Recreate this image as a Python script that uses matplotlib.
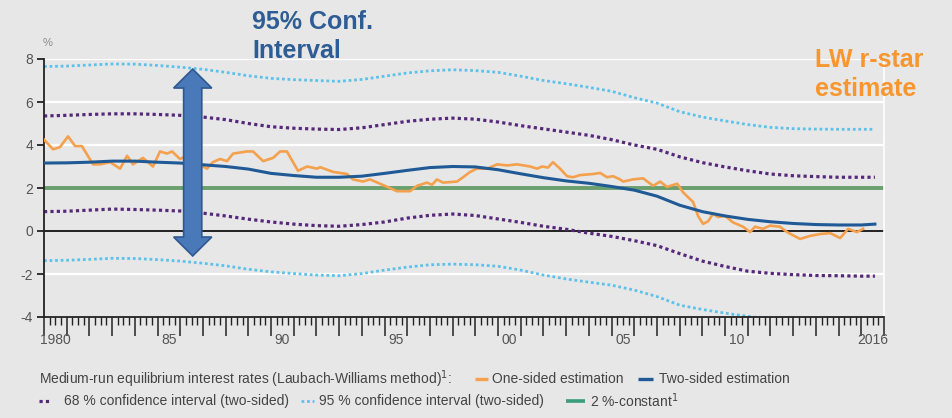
import matplotlib
matplotlib.use("Agg")
import matplotlib.pyplot as plt
from matplotlib.lines import Line2D
from matplotlib.patches import Polygon
from matplotlib.ticker import MultipleLocator

plt.rcParams['font.family'] = ['Liberation Sans', 'DejaVu Sans']

# one-sided (real-time) Laubach-Williams estimate
one_sided_t = [1980.0, 1980.4, 1980.7, 1981.06, 1981.37, 1981.67, 1982.16, 1982.47, 1982.91, 1983.35,
               1983.66, 1983.92, 1984.36, 1984.8, 1985.11, 1985.42, 1985.64, 1985.99, 1986.3, 1986.6,
               1987.0, 1987.18, 1987.44, 1987.75, 1988.06, 1988.33, 1988.94, 1989.21, 1989.65, 1990.09,
               1990.4, 1990.7, 1990.97, 1991.19, 1991.59, 1992.03, 1992.16, 1992.73, 1993.35, 1993.61,
               1994.05, 1994.36, 1994.8, 1995.55, 1996.12, 1996.43, 1996.87, 1997.09, 1997.31, 1997.58,
               1998.19, 1998.46, 1998.77, 1999.07, 1999.52, 1999.96, 2000.4, 2000.84, 2001.41, 2001.72,
               2001.94, 2002.2, 2002.42, 2002.73, 2003.04, 2003.3, 2003.61, 2004.19, 2004.5, 2004.8,
               2005.07, 2005.37, 2005.51, 2005.95, 2006.39, 2006.83, 2007.14, 2007.44, 2007.89, 2008.15,
               2008.59, 2008.81, 2009.03, 2009.25, 2009.47, 2009.69, 2010.0, 2010.35, 2010.79, 2011.1,
               2011.32, 2011.67, 2011.98, 2012.42, 2012.73, 2013.3, 2013.74, 2014.19, 2014.63, 2015.07,
               2015.42, 2015.81, 2016.08]
one_sided = [4.25, 3.8, 3.9, 4.4, 3.95, 3.95, 3.1, 3.1, 3.2, 2.9,
             3.5, 3.1, 3.4, 3.0, 3.7, 3.6, 3.7, 3.35, 3.5, 3.3,
             3.0, 2.9, 3.2, 3.35, 3.25, 3.6, 3.7, 3.7, 3.25, 3.4,
             3.7, 3.7, 3.2, 2.8, 3.0, 2.9, 2.97, 2.75, 2.65, 2.4,
             2.3, 2.4, 2.2, 1.85, 1.85, 2.1, 2.25, 2.15, 2.4, 2.25,
             2.3, 2.5, 2.75, 2.9, 2.9, 3.1, 3.05, 3.1, 3.0, 2.9,
             3.0, 2.95, 3.2, 2.9, 2.55, 2.5, 2.6, 2.65, 2.7, 2.5,
             2.55, 2.4, 2.3, 2.4, 2.45, 2.1, 2.3, 2.05, 2.2, 1.8,
             1.35, 0.7, 0.33, 0.45, 0.8, 0.65, 0.7, 0.4, 0.2, -0.05,
             0.2, 0.1, 0.25, 0.2, -0.05, -0.37, -0.23, -0.14, -0.1, -0.33,
             0.1, -0.05, 0.1]

# two-sided (smoothed) estimate and its confidence bands
years = [1980, 1981, 1982, 1983, 1984, 1985, 1986, 1987, 1988, 1989,
         1990, 1991, 1992, 1993, 1994, 1995, 1996, 1997, 1998, 1999,
         2000, 2001, 2002, 2003, 2004, 2005, 2006, 2007, 2008, 2009,
         2010, 2011, 2012, 2013, 2014, 2015, 2016, 2016.6]
two_sided = [3.16, 3.17, 3.2, 3.25, 3.25, 3.2, 3.16, 3.08, 3.0, 2.88,
             2.68, 2.58, 2.5, 2.5, 2.55, 2.68, 2.82, 2.95, 3.0, 2.98,
             2.85, 2.66, 2.48, 2.33, 2.22, 2.07, 1.9, 1.62, 1.2, 0.9,
             0.7, 0.54, 0.43, 0.35, 0.3, 0.28, 0.28, 0.32]
ci68_hi = [5.35, 5.38, 5.42, 5.45, 5.45, 5.42, 5.38, 5.3, 5.18, 5.0,
           4.85, 4.78, 4.74, 4.72, 4.8, 4.95, 5.1, 5.2, 5.25, 5.2,
           5.07, 4.9, 4.75, 4.6, 4.45, 4.25, 4.0, 3.8, 3.45, 3.18,
           2.98, 2.8, 2.65, 2.57, 2.53, 2.5, 2.5, 2.5]
ci68_lo = [0.9, 0.92, 0.97, 1.02, 1.0, 0.97, 0.93, 0.83, 0.7, 0.55,
           0.42, 0.32, 0.25, 0.22, 0.3, 0.42, 0.6, 0.73, 0.79, 0.72,
           0.56, 0.4, 0.22, 0.08, -0.1, -0.25, -0.45, -0.68, -1.05, -1.4,
           -1.65, -1.87, -1.97, -2.03, -2.07, -2.08, -2.1, -2.1]
ci95_hi = [7.65, 7.67, 7.72, 7.77, 7.76, 7.7, 7.62, 7.52, 7.38, 7.22,
           7.1, 7.04, 7.0, 6.96, 7.05, 7.2, 7.35, 7.45, 7.5, 7.46,
           7.38, 7.2, 7.0, 6.85, 6.68, 6.5, 6.2, 5.95, 5.55, 5.3,
           5.12, 4.95, 4.82, 4.76, 4.74, 4.73, 4.73, 4.73]
ci95_lo = [-1.38, -1.36, -1.32, -1.27, -1.28, -1.33, -1.4, -1.5, -1.62, -1.78,
           -1.9, -1.98, -2.05, -2.08, -1.98, -1.82, -1.68, -1.57, -1.54, -1.57,
           -1.64, -1.82, -2.05, -2.23, -2.38, -2.52, -2.75, -3.05, -3.45, -3.65,
           -3.82, -3.97, -4.1, -4.18, -4.22, -4.24, -4.25, -4.25]
constant = 2.0

year_labels = ['1980', '85', '90', '95', '00', '05', '10', '2016']
label_years = [1980, 1985, 1990, 1995, 2000, 2005, 2010, 2016]

BG = '#e7e7e7'
TXT = '#555555'
C_ONE = '#f4a04c'
C_TWO = '#1f5a96'
C_68 = '#56287a'
C_95 = '#5cc2ea'
C_CONST = '#6a9f6e'

W, H = 953, 418
fig = plt.figure(figsize=(W / 100, H / 100), dpi=100, facecolor=BG)
ax = fig.add_axes([44 / W, 1 - 317 / H, 840 / W, 258 / H], facecolor=BG)

for y in [8, 6, 4, 2, -2]:
    ax.axhline(y, color='white', lw=1.6, zorder=0)
ax.axhline(0, color='black', lw=1.2, zorder=1)

ax.plot(years, ci95_hi, color=C_95, lw=2.0, ls=(0, (1, 1)), zorder=2)
ax.plot(years, ci95_lo, color=C_95, lw=2.0, ls=(0, (1, 1)), zorder=2)
ax.plot(years, ci68_hi, color=C_68, lw=2.3, ls=(0, (1, 1)), zorder=2)
ax.plot(years, ci68_lo, color=C_68, lw=2.3, ls=(0, (1, 1)), zorder=2)
ax.axhline(constant, color=C_CONST, lw=2.8, zorder=2)
ax.plot(one_sided_t, one_sided, color=C_ONE, lw=1.9, zorder=3)
ax.plot(years, two_sided, color=C_TWO, lw=2.2, zorder=4)

ax.set_xlim(1980, 2017)
ax.set_ylim(-4, 8)

# axes styling
ax.spines['top'].set_visible(False)
ax.spines['right'].set_color('white')
ax.spines['right'].set_linewidth(1.2)
ax.spines['left'].set_color('#222222')
ax.spines['bottom'].set_color('#222222')
ax.spines['left'].set_linewidth(1.3)
ax.spines['bottom'].set_linewidth(1.3)

ax.set_yticks([8, 6, 4, 2, 0, -2, -4])
ax.set_yticklabels(['8', '6', '4', '2', '0', '-2', '-4'])
ax.tick_params(axis='y', direction='out', length=5, width=1.3, color='#222222',
               labelsize=10, labelcolor=TXT, pad=3)

ax.xaxis.set_major_locator(MultipleLocator(1))
ax.xaxis.set_minor_locator(MultipleLocator(0.25))
ax.tick_params(axis='x', which='major', direction='out', length=14, width=1.1,
               color='#222222', labelbottom=False)
ax.tick_params(axis='x', which='minor', direction='out', length=6, width=1.0,
               color='#222222')

# year labels sit in the middle of each year
for lab, yr in zip(year_labels, label_years):
    ax.text(yr + 0.5, -23 / 258, lab, transform=ax.get_xaxis_transform(),
            ha='center', va='center', fontsize=10, color=TXT)

fig.text(48 / W, 1 - 43 / H, '%', ha='center', va='center', fontsize=8, color='#8a8a8a')

# double-headed arrow marking the width of the 95% band
cx, hh, hs = 1986.55, 0.84, 0.40
top, top_base, bot_base, bot = 7.53, 6.65, -0.28, -1.16
arrow = Polygon([(cx, top), (cx + hh, top_base), (cx + hs, top_base), (cx + hs, bot_base),
                 (cx + hh, bot_base), (cx, bot), (cx - hh, bot_base), (cx - hs, bot_base),
                 (cx - hs, top_base), (cx - hh, top_base)],
                closed=True, facecolor='#4a79b9', edgecolor='#2f5890', lw=1.2, zorder=6)
ax.add_patch(arrow)

fig.text(252 / W, 1 - 58 / H, '95% Conf.\nInterval', ha='left', va='baseline',
         fontsize=18, fontweight='bold', color='#2e5d95', linespacing=1.25)
fig.text(815 / W, 1 - 96 / H, 'LW r-star\nestimate', ha='left', va='baseline',
         fontsize=18, fontweight='bold', color='#f7962e', linespacing=1.25)

# legend rows
def leg_line(x0, x1, y, color, ls='-', lw=2.4):
    fig.add_artist(Line2D([x0 / W, x1 / W], [1 - y / H, 1 - y / H], color=color,
                          lw=lw, ls=ls, solid_capstyle='butt'))

def leg_text(x, y, s):
    fig.text(x / W, 1 - y / H, s, ha='left', va='center', fontsize=10, color='#444444')

r1, r2 = 379, 401
leg_text(39, r1, 'Medium-run equilibrium interest rates (Laubach-Williams method)$^{1}$:')
leg_line(475, 488, r1, C_ONE)
leg_text(492, r1, 'One-sided estimation')
leg_line(638, 653, r1, C_TWO)
leg_text(659, r1, 'Two-sided estimation')
leg_line(39, 50, r2, C_68, ls=(0, (1, 1)), lw=2.3)
leg_text(64, r2, '68 % confidence interval (two-sided)')
leg_line(301, 314, r2, C_95, ls=(0, (1, 1)), lw=2.0)
leg_text(319, r2, '95 % confidence interval (two-sided)')
leg_line(566, 585, r2, '#3a9e78', lw=2.6)
leg_text(590, r2, '2 %-constant$^{1}$')

fig.savefig('out.png', dpi=100, facecolor=BG)
